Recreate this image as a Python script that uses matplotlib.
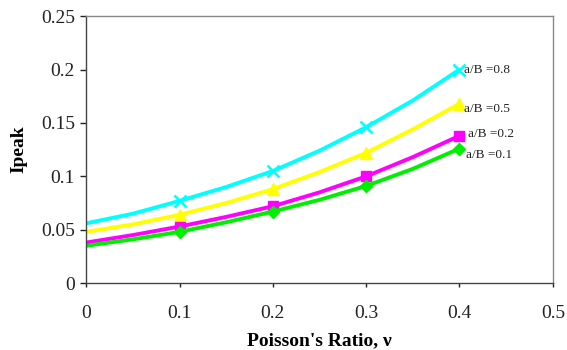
import matplotlib
matplotlib.use("Agg")
import matplotlib.pyplot as plt

plt.rcParams['font.family'] = ['Liberation Serif', 'DejaVu Serif']

nu_line = [0.0, 0.05, 0.1, 0.15, 0.2, 0.25, 0.3, 0.35, 0.4]
nu_mark = [0.1, 0.2, 0.3, 0.4]

cyan_line = [0.056, 0.065, 0.077, 0.090, 0.105, 0.124, 0.146, 0.171, 0.200]
yellow_line = [0.048, 0.055, 0.064, 0.075, 0.088, 0.104, 0.122, 0.144, 0.168]
magenta_line = [0.038, 0.045, 0.053, 0.062, 0.072, 0.085, 0.100, 0.118, 0.138]
green_line = [0.035, 0.041, 0.048, 0.057, 0.067, 0.078, 0.091, 0.107, 0.126]

cyan_mark = [0.077, 0.105, 0.146, 0.200]
yellow_mark = [0.064, 0.088, 0.122, 0.168]
magenta_mark = [0.053, 0.072, 0.100, 0.138]
green_mark = [0.048, 0.067, 0.091, 0.126]

labels = ["a/B =0.8", "a/B =0.5", "a/B =0.2", "a/B =0.1"]
x_ticks = [0, 0.1, 0.2, 0.3, 0.4, 0.5]
y_ticks = [0, 0.05, 0.1, 0.15, 0.2, 0.25]
x_ticklabels = ["0", "0.1", "0.2", "0.3", "0.4", "0.5"]
y_ticklabels = ["0", "0.05", "0.1", "0.15", "0.2", "0.25"]

fig = plt.figure(figsize=(5.67, 3.5), dpi=100)
ax = fig.add_axes([0.152, 0.191, 0.823, 0.763])

series = [
    (cyan_line, cyan_mark, '#00FFFF', 'x', 9, (3, 0)),
    (yellow_line, yellow_mark, '#FFFF00', '^', 8, (3, -3.5)),
    (magenta_line, magenta_mark, '#FF00FF', 's', 7, (6, 1.5)),
    (green_line, green_mark, '#00EE00', 'D', 6.5, (5, -4.5)),
]
for (ln, mk, col, m, ms, off), lab in zip(series, labels):
    ax.plot(nu_line, ln, color=col, lw=2.8, solid_capstyle='round')
    if m == 'x':
        ax.plot(nu_mark, mk, ls='none', marker=m, ms=ms, mew=1.8, color=col)
    else:
        ax.plot(nu_mark, mk, ls='none', marker=m, ms=ms, color=col, mec=col)
    ax.annotate(lab, (nu_mark[-1], mk[-1]), xytext=off, textcoords='offset points',
                fontsize=9.5, va='center', ha='left', color='#222222')

ax.set_xlim(0, 0.5)
ax.set_ylim(0, 0.25)
ax.set_xticks(x_ticks)
ax.set_xticklabels(x_ticklabels)
ax.set_yticks(y_ticks)
ax.set_yticklabels(y_ticklabels)
ax.tick_params(direction='out', length=4, width=1, labelsize=14, colors='#222222', pad=4)
ax.tick_params(axis='x', length=3, pad=13)
for name, s in ax.spines.items():
    s.set_linewidth(1)
    s.set_color('#444444' if name in ('left', 'bottom') else '#888888')
ax.set_xlabel("Poisson's Ratio, ν", fontsize=14, fontweight='bold', labelpad=7)
ax.set_ylabel("Ipeak", fontsize=14, fontweight='bold', labelpad=10)

fig.savefig("out.png", dpi=100)
